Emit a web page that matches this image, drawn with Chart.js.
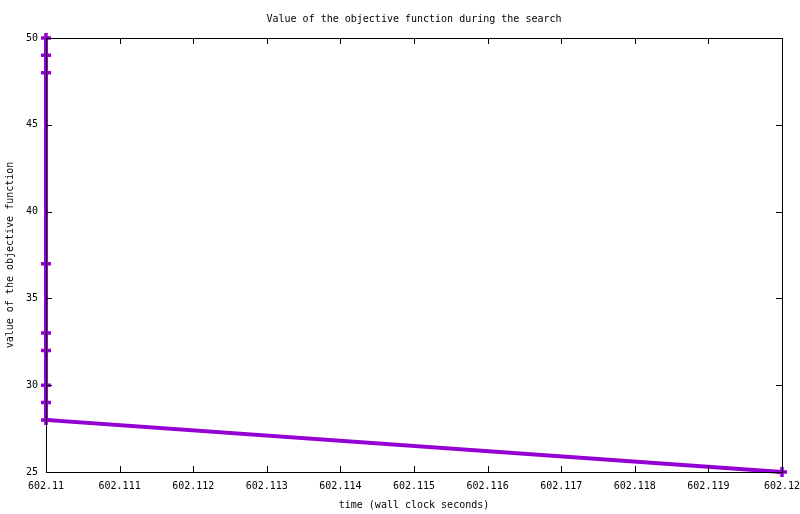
<!DOCTYPE html>
<html>
<head>
<meta charset="utf-8">
<script src="https://cdn.jsdelivr.net/npm/chart.js@4"></script>
<style>
  body { margin: 0; background: #fff; }
  canvas { display: block; }
</style>
</head>
<body>
<canvas id="objChart" width="800" height="514"></canvas>
<script>
const chartTitle = 'Value of the objective function during the search';
const xLabel = 'time (wall clock seconds)';
const yLabel = 'value of the objective function';

// time of each improvement, value found
const times = [602.11, 602.11, 602.11, 602.11, 602.11, 602.11, 602.11, 602.11, 602.11, 602.12];
const values = [50, 49, 48, 37, 33, 32, 30, 29, 28, 25];

const xMin = 602.11, xMax = 602.12, xStep = 0.001;
const yMin = 25, yMax = 50, yStep = 5;

const MONO = '"DejaVu Sans Mono", monospace';

// gnuplot style: title, frame and inward ticks (mirrored)
const gnuFrame = {
    id: 'gnuFrame',
    afterDatasetsDraw(chart) {
        const { ctx, chartArea: a, scales } = chart;
        ctx.save();
        ctx.strokeStyle = '#000';
        ctx.lineWidth = 1;
        ctx.strokeRect(a.left + 0.5, a.top + 0.5, a.right - a.left, a.bottom - a.top);
        ctx.beginPath();
        scales.x.ticks.forEach(t => {
            const px = Math.round(scales.x.getPixelForValue(t.value)) + 0.5;
            ctx.moveTo(px, a.bottom); ctx.lineTo(px, a.bottom - 6);
            ctx.moveTo(px, a.top); ctx.lineTo(px, a.top + 6);
        });
        scales.y.ticks.forEach(t => {
            const py = Math.round(scales.y.getPixelForValue(t.value)) + 0.5;
            ctx.moveTo(a.left, py); ctx.lineTo(a.left + 6, py);
            ctx.moveTo(a.right, py); ctx.lineTo(a.right - 6, py);
        });
        ctx.stroke();
        ctx.fillStyle = '#000';
        ctx.font = '10px ' + MONO;
        ctx.textAlign = 'center';
        ctx.textBaseline = 'middle';
        ctx.fillText(chartTitle, (a.left + a.right) / 2, 19);
        ctx.restore();
    }
};

new Chart(document.getElementById('objChart'), {
    type: 'line',
    data: {
        datasets: [{
            data: times.map((t, i) => ({ x: t, y: values[i] })),
            borderColor: 'rgb(148, 0, 211)',
            backgroundColor: 'rgb(148, 0, 211)',
            borderWidth: 4,
            pointStyle: 'cross',
            pointRadius: 5,
            pointBorderWidth: 3.5,
            tension: 0,
            clip: false
        }]
    },
    options: {
        responsive: false,
        animation: false,
        devicePixelRatio: 1,
        layout: { padding: { top: 38, right: 18, left: 0, bottom: 0 } },
        plugins: {
            legend: { display: false },
            tooltip: { enabled: false }
        },
        scales: {
            x: {
                type: 'linear',
                min: xMin,
                max: xMax,
                afterFit: s => { s.height = 42; s.paddingLeft = 0; s.paddingRight = 0; },
                grid: { display: false, drawTicks: false },
                border: { display: false },
                ticks: {
                    stepSize: xStep,
                    padding: 8,
                    maxRotation: 0,
                    autoSkip: false,
                    color: '#000',
                    font: { family: MONO, size: 10 },
                    callback: v => String(Number(v.toFixed(3)))
                },
                title: {
                    display: true,
                    text: xLabel,
                    color: '#000',
                    font: { family: MONO, size: 10 },
                    padding: { top: 0, bottom: 3 }
                }
            },
            y: {
                min: yMin,
                max: yMax,
                afterFit: s => { s.width = 46; s.paddingTop = 0; s.paddingBottom = 0; },
                grid: { display: false, drawTicks: false },
                border: { display: false },
                ticks: {
                    stepSize: yStep,
                    padding: 8,
                    color: '#000',
                    font: { family: MONO, size: 10 }
                },
                title: {
                    display: true,
                    text: yLabel,
                    color: '#000',
                    font: { family: MONO, size: 10 },
                    padding: { top: 4, bottom: 0 }
                }
            }
        }
    },
    plugins: [gnuFrame]
});
</script>
</body>
</html>
